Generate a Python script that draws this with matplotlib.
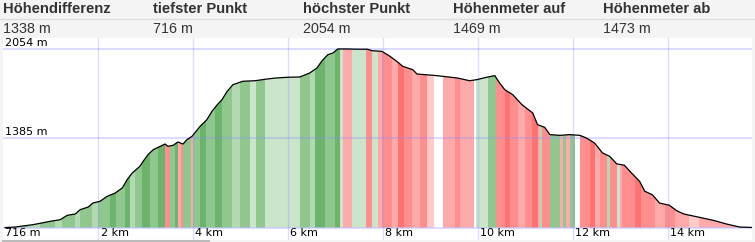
import numpy as np
import matplotlib
matplotlib.use('Agg')
import matplotlib.pyplot as plt
from matplotlib.patches import Polygon, Rectangle

# header table
head_labels = ['Höhendifferenz', 'tiefster Punkt', 'höchster Punkt', 'Höhenmeter auf', 'Höhenmeter ab']
head_values = ['1338 m', '716 m', '2054 m', '1469 m', '1473 m']

# elevation profile (km, m)
dist_km = [0.04, 0.25, 0.63, 0.99, 1.20, 1.35, 1.52, 1.62, 1.79, 1.89, 2.04, 2.19, 2.36, 2.51,
           2.61, 2.72, 2.88, 2.95, 3.05, 3.16, 3.31, 3.41, 3.47, 3.58, 3.68, 3.79, 3.87, 3.98,
           4.15, 4.29, 4.40, 4.51, 4.61, 4.72, 4.84, 5.05, 5.31, 5.52, 5.73, 6.00, 6.25, 6.46,
           6.61, 6.72, 6.84, 6.95, 7.05, 7.26, 7.47, 7.68, 7.77, 7.98, 8.15, 8.29, 8.42, 8.63,
           8.72, 9.05, 9.26, 9.56, 9.83, 9.98, 10.19, 10.36, 10.46, 10.57, 10.74, 10.93, 11.16,
           11.26, 11.41, 11.52, 11.73, 11.94, 12.15, 12.29, 12.46, 12.63, 12.78, 12.93, 13.09,
           13.24, 13.41, 13.52, 13.68, 13.83, 14.04, 14.19, 14.34, 14.67, 14.99, 15.24, 15.52, 15.77]
elev_m = [716, 720, 738, 763, 775, 808, 818, 850, 870, 900, 913, 950, 975, 1013,
          1075, 1125, 1175, 1213, 1262, 1299, 1325, 1342, 1325, 1332, 1357, 1342, 1374, 1400,
          1475, 1524, 1587, 1636, 1674, 1737, 1786, 1812, 1816, 1827, 1836, 1842, 1844, 1874,
          1911, 1966, 2011, 2024, 2054, 2054, 2052, 2052, 2041, 2036, 1999, 1962, 1924, 1899,
          1866, 1857, 1849, 1837, 1816, 1824, 1842, 1854, 1799, 1749, 1711, 1637, 1574,
          1487, 1467, 1412, 1407, 1412, 1407, 1387, 1350, 1275, 1250, 1193, 1183,
          1125, 1063, 988, 962, 900, 883, 843, 818, 793, 768, 743, 720, 717]

# gradient stripes: start km of each stripe (last value = end) and gradient class
stripe_km = [0.04, 0.36, 0.53, 0.78, 1.09, 1.24, 1.52, 1.62, 1.87, 2.00, 2.25, 2.38, 2.57, 2.67,
             2.78, 2.93, 3.09, 3.26, 3.41, 3.52, 3.62, 3.68, 3.75, 3.79, 3.96, 4.00, 4.15, 4.27,
             4.46, 4.61, 4.82, 4.99, 5.20, 5.33, 5.52, 6.25, 6.46, 6.57, 6.78, 6.99, 7.09, 7.16,
             7.35, 7.64, 7.77, 7.89, 7.98, 8.19, 8.32, 8.44, 8.61, 8.78, 8.93, 9.07, 9.26, 9.52,
             9.62, 9.92, 9.96, 10.21, 10.38, 10.57, 10.67, 10.84, 10.99, 11.14, 11.26, 11.31,
             11.35, 11.52, 11.73, 11.79, 11.87, 11.94, 12.06, 12.15, 12.36, 12.48, 12.57, 12.72,
             12.78, 12.93, 12.99, 13.05, 13.31, 13.45, 13.73, 13.94, 14.15, 14.46, 14.67, 15.77]
stripe_cls = ['G1', 'G2', 'G1', 'G2', 'G1', 'G2', 'G1', 'G2', 'G1', 'G2', 'G3', 'G2', 'G3', 'G1',
              'G2', 'G3', 'G2', 'G3', 'R2', 'G2', 'G3', 'R1', 'R2', 'G2', 'R1', 'G2', 'G3', 'G2',
              'G3', 'G2', 'G1', 'G2', 'G0', 'G2', 'G0', 'G2', 'G1', 'G3', 'G2', 'G3', 'G0', 'R1',
              'G0', 'R2', 'G0', 'R1', 'R2', 'R1', 'R3', 'R2', 'R1', 'R2', 'R0', 'W', 'R1', 'R2',
              'R1', 'W', 'G0', 'G2', 'R2', 'R3', 'R2', 'R1', 'R2', 'R3', 'R1', 'G1',
              'R2', 'G2', 'R1', 'G2', 'R1', 'G2', 'W', 'R2', 'R3', 'R1', 'R2', 'G1',
              'R2', 'G0', 'R1', 'R2', 'R3', 'R2', 'R1', 'R2', 'R1', 'R0', 'R1']

shade = {'G3': '#6cb36c', 'G2': '#8fc78f', 'G1': '#b2d9b2', 'G0': '#cbe5cb', 'W': '#ffffff',
         'R0': '#ffcaca', 'R1': '#ffaaaa', 'R2': '#ff8e8e', 'R3': '#ff7272'}

km_ticks = [2, 4, 6, 8, 10, 12, 14]
elev_ticks = [716, 1385, 2054]

W, H = 755, 242
fig = plt.figure(figsize=(W / 100, H / 100), dpi=100)
fig.patch.set_facecolor('#f4f4f4')

# header
for i in range(len(head_labels)):
    x = (3 + 150 * i) / W
    fig.text(x, 1 - 9 / H, head_labels[i], family='Liberation Sans', weight='bold',
             fontsize=10.6, color='#333333', va='center', ha='left')
    fig.text(x, 1 - 29 / H, head_values[i], family='Liberation Sans',
             fontsize=10.3, color='#333333', va='center', ha='left')
fig.add_artist(plt.Line2D([0, 1], [1 - 18.5 / H, 1 - 18.5 / H], color='#dddddd', lw=1))

# chart
ax = fig.add_axes([3 / W, 2 / H, 749 / W, 202 / H])
ax.set_xlim(-0.005, 15.78)
ax.set_ylim(623, 2136)
ax.axis('off')
ax.add_patch(Rectangle((0, 0), 1, 1, transform=ax.transAxes, color='white', zorder=0))

pts = [(dist_km[0], 716)] + list(zip(dist_km, elev_m)) + [(dist_km[-1], 716)]
prof = Polygon(pts, closed=True, facecolor='none', edgecolor='none')
ax.add_patch(prof)

widths = np.diff(stripe_km)
bars = ax.bar(stripe_km[:-1], [2200 - 716] * len(widths), width=widths, bottom=716,
              align='edge', color=[shade[c] for c in stripe_cls], linewidth=0, zorder=1)
for b in bars:
    b.set_clip_path(prof)

ax.plot(dist_km, elev_m, color='black', lw=0.9, zorder=3)

grid_c = (0.55, 0.55, 1.0, 0.3)
for t in elev_ticks:
    ax.axhline(t, color=grid_c, lw=1.5, zorder=2)
for t in km_ticks:
    ax.axvline(t, color=grid_c, lw=1, zorder=2)

lbl = dict(fontsize=8, color='black', ha='left')
ax.text(0.04, 2054 + 8, '2054 m', va='bottom', **lbl)
ax.text(0.04, 1385 + 8, '1385 m', va='bottom', **lbl)
ax.text(0.04, 673, '716 m', va='center', **lbl)
for t in km_ticks:
    ax.text(t + 0.05, 673, '%d km' % t, va='center', **lbl)

# scroll bar at the bottom
fig.add_artist(plt.Line2D([3 / W, 209 / W], [1 / H, 1 / H], color='#bbbbbb', lw=1.5))

fig.savefig('out.png', dpi=100, facecolor=fig.get_facecolor())
